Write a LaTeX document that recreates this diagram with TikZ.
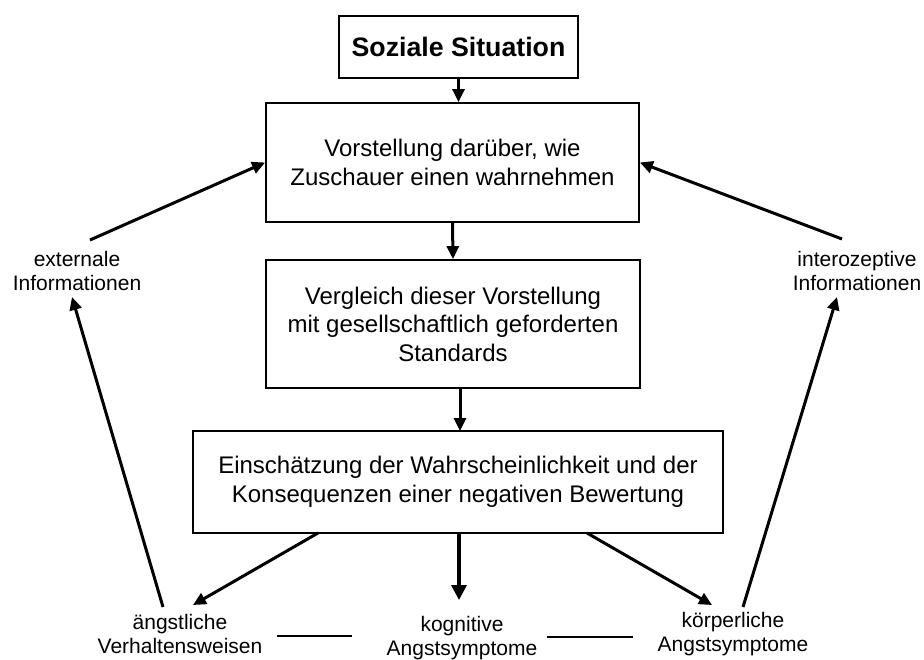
\documentclass[tikz,border=0pt]{standalone}
\usepackage{fontspec}
\setmainfont{Liberation Sans}
\usetikzlibrary{arrows.meta,calc}
\begin{document}
\begin{tikzpicture}[x=1pt,y=-1pt,
  box/.style={draw,line width=1.8pt,inner sep=0pt,align=center,font=\fontsize{24}{28.5}\selectfont},
  lab/.style={align=center,inner sep=0pt,font=\fontsize{21}{24}\selectfont},
  arr/.style={line width=3pt,-{Triangle[length=13pt,width=12pt]}},
  bigarr/.style={line width=3.2pt,-{Triangle[length=15pt,width=15pt]}},
  tie/.style={line width=1.3pt}]
\useasboundingbox (0,0) rectangle (924,659);
\clip (0,0) rectangle (924,659);
% boxes
\node[box,minimum width=239pt,minimum height=62pt,font=\fontsize{26.7}{30}\selectfont\bfseries] (s1) at (458.5,47) {Soziale Situation};
\node[box,minimum width=373pt,minimum height=119pt] (s2) at (452.5,162.5) {Vorstellung darüber, wie\\Zuschauer einen wahrnehmen};
\node[box,minimum width=374pt,minimum height=128pt] (s3) at (453,324) {Vergleich dieser Vorstellung\\mit gesellschaftlich geforderten\\Standards};
\node[box,minimum width=530pt,minimum height=102pt] (s4) at (458,482) {Einschätzung der Wahrscheinlichkeit und der\\Konsequenzen einer negativen Bewertung};
% labels
\node[lab] (ext) at (77,271) {externale\\Informationen};
\node[lab] (int) at (857,271) {interozeptive\\Informationen};
\node[lab] (ang) at (180,634) {ängstliche\\Verhaltensweisen};
\node[lab] (kog) at (462,638) {kognitive\\Angstsymptome};
\node[lab] (koe) at (733,634) {körperliche\\Angstsymptome};
% connector end points
\coordinate (s3out) at (460,388);
\coordinate (s4in) at (460,431);
\coordinate (s4l) at (318,533);
\coordinate (s4m) at (459,533);
\coordinate (s4r) at (587,533);
\coordinate (angtip) at (193,605);
\coordinate (kogtip) at (459,600);
\coordinate (koetip) at (712,605);
\coordinate (angup) at (163,607);
\coordinate (exttip) at (72,297);
\coordinate (extout) at (90,240);
\coordinate (koeup) at (743,607);
\coordinate (inttip) at (837,297);
\coordinate (intout) at (842,239);
% vertical chain
\draw[arr] (s1.south) -- (s1.south |- s2.north);
\draw[arr] (s2.south) -- (s3.north);
\draw[arr] (s3out) -- (s4in);
% from s4 downwards
\draw[arr] (s4l) -- (angtip);
\draw[bigarr] (s4m) -- (kogtip);
\draw[arr] (s4r) -- (koetip);
% feedback
\draw[arr] (angup) -- (exttip);
\draw[arr] (extout) -- (s2.west);
\draw[arr] (koeup) -- (inttip);
\draw[arr] (intout) -- (s2.east);
% ties
\draw[tie] (277,636) -- (352,636);
\draw[tie] (547,637) -- (633,637);
\end{tikzpicture}
\end{document}
